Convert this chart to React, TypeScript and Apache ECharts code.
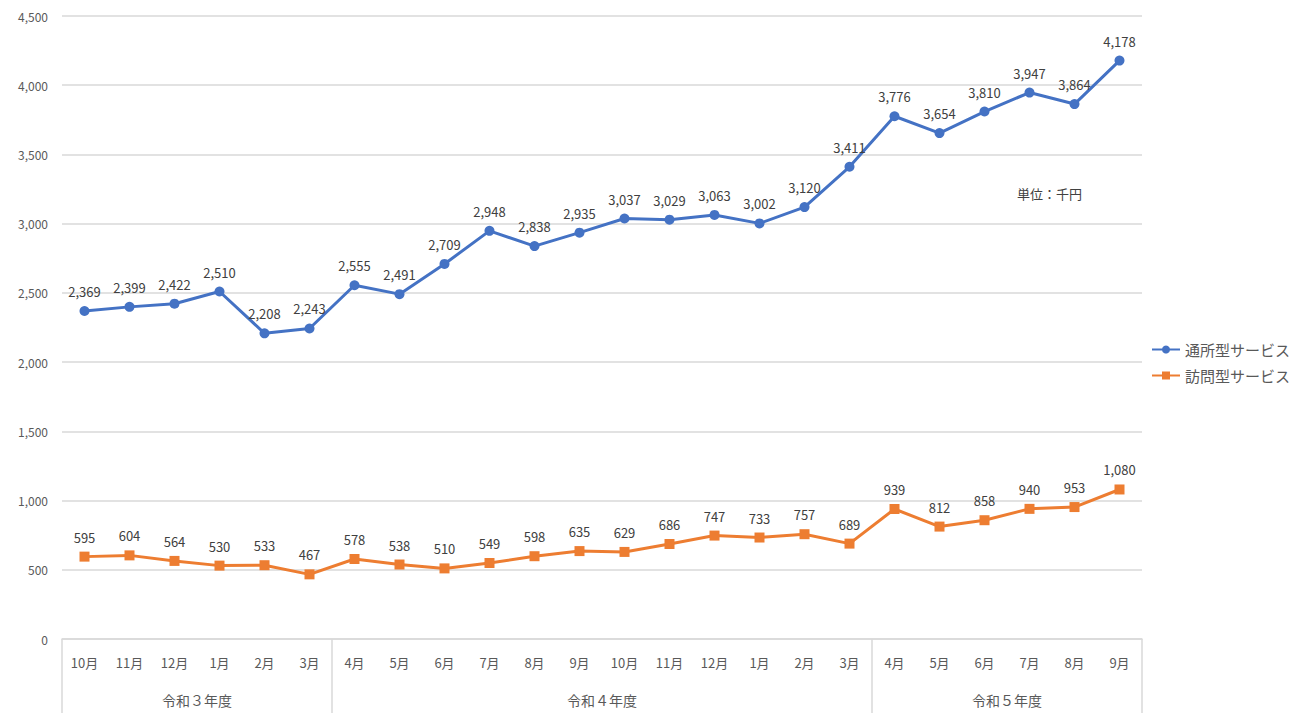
import React, { useEffect, useRef } from "react";
import * as echarts from "echarts";

const months = ["10月","11月","12月","1月","2月","3月","4月","5月","6月","7月","8月","9月","10月","11月","12月","1月","2月","3月","4月","5月","6月","7月","8月","9月"];
const tsusho = [2369,2399,2422,2510,2208,2243,2555,2491,2709,2948,2838,2935,3037,3029,3063,3002,3120,3411,3776,3654,3810,3947,3864,4178];
const homon = [595,604,564,530,533,467,578,538,510,549,598,635,629,686,747,733,757,689,939,812,858,940,953,1080];
const groupStarts = [0, 6, 18];
const yearLabels: Record<number, string> = { 3: "令和３年度", 12: "令和４年度", 21: "令和５年度" };

export default function App() {
  const ref = useRef<HTMLDivElement>(null);
  useEffect(() => {
    const chart = echarts.init(ref.current!, null, { renderer: "svg" });
    const font = "'Noto Sans CJK JP', 'Noto Sans', sans-serif";
    const label = {
      show: true,
      position: "top" as const,
      distance: 8,
      color: "#404040",
      fontSize: 13,
      fontFamily: font,
      formatter: (p: any) => Number(p.value).toLocaleString("en-US"),
    };
    chart.setOption({
      animation: false,
      textStyle: { fontFamily: font },
      grid: { left: 62, right: 163, top: 16, bottom: 74 },
      title: {
        text: "単位：千円",
        left: 1012,
        top: 182,
        textStyle: { fontSize: 13, fontWeight: "normal", color: "#404040", fontFamily: font },
      },
      legend: {
        orient: "vertical",
        left: 1146,
        top: 337,
        itemGap: 11,
        itemWidth: 28,
        itemHeight: 10,
        textStyle: { fontSize: 15, color: "#595959", fontFamily: font },
        data: ["通所型サービス", "訪問型サービス"],
      },
      xAxis: [
        {
          type: "category",
          data: months,
          boundaryGap: true,
          axisLine: { show: true, lineStyle: { color: "#d9d9d9", width: 1.5 } },
          axisTick: {
            show: true,
            length: 80,
            interval: (i: number) => groupStarts.includes(i),
            lineStyle: { color: "#d9d9d9", width: 1.5 },
          },
          axisLabel: { interval: 0, margin: 17, fontSize: 13, color: "#595959", fontFamily: font },
        },
        {
          type: "value",
          position: "bottom",
          min: 0,
          max: 24,
          interval: 3,
          axisLine: { show: false },
          axisTick: { show: false },
          splitLine: { show: false },
          axisLabel: {
            margin: 54,
            fontSize: 14,
            color: "#595959",
            fontFamily: font,
            formatter: (v: number) => yearLabels[v] || "",
          },
        },
      ],
      yAxis: {
        type: "value",
        min: 0,
        max: 4500,
        interval: 500,
        axisLine: { show: false },
        axisTick: { show: false },
        splitLine: { lineStyle: { color: "#d9d9d9", width: 1.5 } },
        axisLabel: {
          margin: 14,
          fontSize: 12,
          color: "#595959",
          fontFamily: font,
          formatter: (v: number) => v.toLocaleString("en-US"),
        },
      },
      series: [
        {
          name: "通所型サービス",
          type: "line",
          data: tsusho,
          symbol: "circle",
          symbolSize: 10,
          itemStyle: { color: "#4472c4" },
          lineStyle: { color: "#4472c4", width: 3 },
          label,
        },
        {
          name: "訪問型サービス",
          type: "line",
          data: homon,
          symbol: "rect",
          symbolSize: 10,
          itemStyle: { color: "#ed7d31" },
          lineStyle: { color: "#ed7d31", width: 3 },
          label,
        },
      ],
    });
    return () => chart.dispose();
  }, []);
  return (
    <div
      ref={ref}
      style={{ position: "fixed", left: 0, top: 0, width: 1305, height: 713, background: "#fff" }}
    />
  );
}
